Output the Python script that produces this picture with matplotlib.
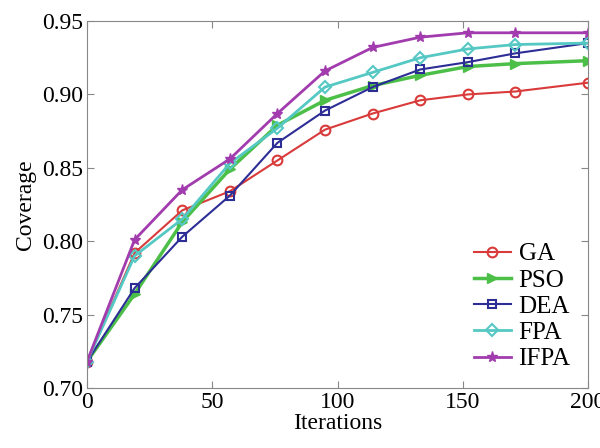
import matplotlib.pyplot as plt

iters = [0, 19, 38, 57, 76, 95, 114, 133, 152, 171, 200]
ga = [0.718, 0.792, 0.821, 0.834, 0.855, 0.876, 0.887, 0.896, 0.900, 0.902, 0.908]
pso = [0.718, 0.764, 0.813, 0.849, 0.879, 0.896, 0.906, 0.913, 0.919, 0.921, 0.923]
dea = [0.718, 0.768, 0.803, 0.831, 0.867, 0.889, 0.905, 0.917, 0.922, 0.928, 0.935]
fpa = [0.718, 0.790, 0.815, 0.853, 0.877, 0.905, 0.915, 0.925, 0.931, 0.934, 0.935]
ifpa = [0.718, 0.801, 0.835, 0.856, 0.887, 0.916, 0.932, 0.939, 0.942, 0.942, 0.942]

plt.rcParams['font.family'] = ['Liberation Serif', 'DejaVu Serif']

fig = plt.figure(figsize=(6, 4.48), dpi=100)
ax = fig.add_axes([0.145, 0.134, 0.835, 0.819])

ax.plot(iters, ga, color="#d93a3a", marker="o", mfc="none", ms=7, mew=1.5, lw=1.5, label="GA")
ax.plot(iters, pso, color="#4cbf48", marker=">", ms=7, lw=2.5, label="PSO")
ax.plot(iters, dea, color="#2d2d96", marker="s", mfc="none", ms=6, mew=1.5, lw=1.5, label="DEA")
ax.plot(iters, fpa, color="#55c8c4", marker="D", mfc="none", ms=6, mew=1.5, lw=2, label="FPA")
ax.plot(iters, ifpa, color="#a23cae", marker="*", ms=8, lw=2, label="IFPA")

ax.set_xlim(0, 200)
ax.set_ylim(0.70, 0.95)
ax.set_xticks([0, 50, 100, 150, 200])
ax.set_yticks([0.70, 0.75, 0.80, 0.85, 0.90, 0.95])
ax.set_yticklabels(["0.70", "0.75", "0.80", "0.85", "0.90", "0.95"])
ax.tick_params(direction="in", top=True, right=True, labelsize=17, color="#888888", length=5, pad=3)
for s in ax.spines.values():
    s.set_color("#888888")
ax.set_xlabel("Iterations", fontsize=17, labelpad=0)
ax.set_ylabel("Coverage", fontsize=17, labelpad=4)

ax.legend(loc="lower right", frameon=False, fontsize=18, handlelength=1.5,
          handletextpad=0.3, labelspacing=0.15, borderaxespad=0.3)

fig.savefig("out.png", dpi=100)
